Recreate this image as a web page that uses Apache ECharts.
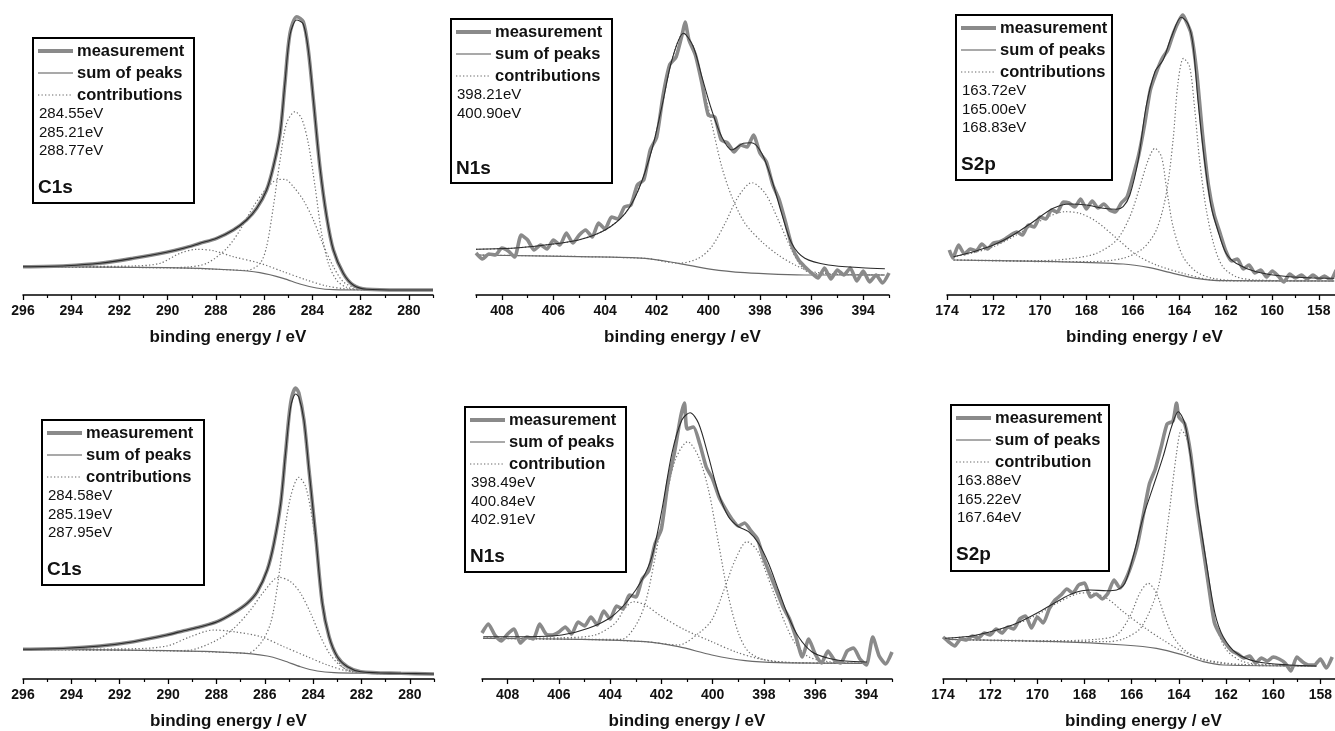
<!DOCTYPE html>
<html>
<head>
<meta charset="utf-8">
<title>XPS spectra C1s / N1s / S2p</title>
<script src="https://cdn.jsdelivr.net/npm/echarts@6.0.0/dist/echarts.min.js"></script>
<style>
  html, body { margin: 0; padding: 0; background: #fff; }
  #chart { width: 1335px; height: 731px; }
</style>
</head>
<body>
<div id="chart"></div>
<script>
// ---- tick labels (binding energy, eV) ----
const c1sTicks = [280, 282, 284, 286, 288, 290, 292, 294, 296]
const c1sMinorTicks = [279, 281, 283, 285, 287, 289, 291, 293, 295]
const n1sTicks = [394, 396, 398, 400, 402, 404, 406, 408]
const n1sMinorTicks = [393, 395, 397, 399, 401, 403, 405, 407, 409]
const s2pTicks = [158, 160, 162, 164, 166, 168, 170, 172, 174]
const s2pMinorTicks = [157, 159, 161, 163, 165, 167, 169, 171, 173]

const legendNames = ["measurement", "sum of peaks", "contributions"]
const legendNamesAlt = ["measurement", "sum of peaks", "contribution"]

// ---- C1s, top row ----  [binding energy, intensity (a.u.)]
const c1sTopPeaks = ["284.55eV", "285.21eV", "288.77eV"]
const c1sTopMeas = [[296,28.3],[294.19,29.3],[292.81,31.7],[291.43,36.7],[290.05,42.7],[289.35,46.7],[288.66,51.7],[287.97,56.7],[287.28,65],[286.73,75],[286.31,86.7],[285.9,105],[285.62,128.3],[285.34,161.7],[285.14,211.7],[284.93,261.7],[284.65,278.3],[284.38,273.3],[284.17,245],[283.96,195],[283.69,128.3],[283.41,78.3],[283.13,45],[282.72,21.7],[282.31,10],[281.75,5.7],[280.37,5],[279,5]]
const c1sTopFit = [[296,28.3],[294.19,29.3],[292.81,31.7],[291.43,36.7],[290.05,42.7],[289.35,46.7],[288.66,51.7],[287.97,56.7],[287.28,65],[286.73,75],[286.31,86.7],[285.9,105],[285.62,128.3],[285.34,161.7],[285.14,211.7],[284.93,260],[284.65,275],[284.38,271],[284.17,245],[283.96,195],[283.69,128.3],[283.41,78.3],[283.13,45],[282.72,21.7],[282.31,10],[281.75,5.7],[280.37,5],[279,5]]
const c1sTopBg = [[296,28.3],[290.05,27.3],[287.28,25],[286.18,22.3],[285.21,16.7],[284.52,11],[283.83,7],[283.13,5.3],[281.75,5],[279,5]]
const c1sTopPeakA = [[296,28.3],[290.05,27.3],[287.28,25],[286.73,24.5],[286.17,31.7],[285.9,48.3],[285.62,88.3],[285.34,135],[285.07,171.7],[284.72,183.3],[284.45,176.7],[284.17,151.7],[283.89,108.3],[283.62,61.7],[283.34,31.7],[283,15],[282.58,7.7],[281.75,5.3],[279,5]]
const c1sTopPeakB = [[296,28.3],[290.05,27.4],[289.21,27.9],[288.38,31.7],[287.55,46.7],[287,65],[286.45,88.3],[285.9,106.7],[285.48,115],[285.14,115.7],[284.79,108.3],[284.38,95],[283.96,75],[283.55,50],[283.13,28.3],[282.72,13.3],[282.17,6.7],[281.48,5],[279,5]]
const c1sTopPeakC = [[296,28.3],[291.43,29],[290.32,31.7],[289.49,41.7],[288.8,45.7],[288.11,44.3],[287.28,38.3],[286.17,31.7],[285.21,23.3],[284.24,15],[283.41,9],[282.58,6],[281.75,5],[279,5]]

// ---- N1s, top row ----
const n1sTopPeaks = ["398.21eV", "400.90eV"]
const n1sTopMeas = [[409,42],[408.75,36],[408.5,41],[408.25,40],[408,47],[407.75,44],[407.5,38],[407.25,60],[407,55],[406.75,45],[406.5,50],[406.25,46],[406,55],[405.75,50],[405.5,62],[405.25,52],[405,60],[404.75,65],[404.5,58],[404.25,72],[404,66],[403.75,78],[403.5,76],[403.25,88],[403,90],[402.75,110],[402.5,115],[402.25,145],[402,158],[401.75,200],[401.5,230],[401.25,238],[401,262],[400.9,273],[400.75,255],[400.5,240],[400.25,212],[400,180],[399.75,178],[399.5,155],[399.25,152],[399,143],[398.75,150],[398.5,148],[398.25,160],[398,142],[397.75,133],[397.5,110],[397.25,95],[397,72],[396.75,48],[396.5,35],[396.25,28],[396,22],[395.75,17],[395.5,27],[395.25,16],[395,25],[394.75,20],[394.5,27],[394.25,14],[394,24],[393.75,13],[393.5,20],[393.25,12],[393,22]]
const n1sTopFit = [[409,45.7],[407.62,46.7],[406.33,50],[405.03,55],[404,65],[403.22,81.7],[402.71,105],[402.19,145],[401.8,188.3],[401.41,235],[400.96,261.7],[400.58,248.3],[400.25,218.3],[399.87,185],[399.48,158.3],[399.09,145],[398.64,151.7],[398.32,152.3],[397.93,141.7],[397.54,115],[397.16,81.7],[396.77,51.7],[396.26,36.7],[395.35,30],[394.06,27.3],[393.16,26.3]]
const n1sTopBg = [[409,40],[405.03,38.3],[402.45,36.7],[401.16,31.7],[399.87,25.7],[398.58,22.3],[397.29,20.7],[396,20],[393.16,20]]
const n1sTopPeakA = [[409,45.7],[407.62,46.7],[406.33,50],[405.03,55],[404,65],[403.22,81.7],[402.71,105],[402.19,145],[401.8,188.3],[401.41,235],[400.96,261.7],[400.58,248.3],[400.25,215],[399.87,171.7],[399.48,128.3],[399.09,98.3],[398.58,71.7],[397.93,53.3],[397.29,40],[396.64,30],[396,23.3],[394.71,20.7],[393.16,20]]
const n1sTopPeakB = [[409,40],[402.45,36.7],[401.16,31.7],[400.38,36.7],[399.87,48.3],[399.35,71.7],[398.84,98.3],[398.32,112.3],[397.8,101.7],[397.29,75],[396.77,45],[396.39,28.3],[396,21.7],[393.16,20]]

// ---- S2p, top row ----
const s2pTopPeaks = ["163.72eV", "165.00eV", "168.83eV"]
const s2pTopMeas = [[173.9,45],[173.75,37],[173.5,50],[173.25,41],[173,46],[172.75,44],[172.5,51],[172.25,46],[172,52],[171.75,53],[171.5,56],[171.25,60],[171,63],[170.75,60],[170.5,70],[170.25,68],[170,78],[169.75,76],[169.5,85],[169.25,83],[169,93],[168.75,92],[168.5,88],[168.25,96],[168,86],[167.75,94],[167.5,87],[167.25,91],[167,85],[166.75,83],[166.5,92],[166.25,98],[166,118],[165.75,140],[165.5,170],[165.25,205],[165,222],[164.75,236],[164.5,245],[164.25,262],[164,275],[163.85,280],[163.75,276],[163.5,262],[163.25,222],[163,160],[162.75,110],[162.5,80],[162.25,62],[162,44],[161.75,34],[161.5,36],[161.25,26],[161,30],[160.75,22],[160.5,25],[160.25,18],[160,24],[159.75,19],[159.5,13],[159.25,21],[159,17],[158.75,20],[158.5,16],[158.25,20],[158,16],[157.75,19],[157.5,15],[157.25,25]]
const s2pTopFit = [[173.72,38.3],[172.86,43.3],[172,50],[171.15,60],[170.29,73.3],[169.43,86.7],[168.71,91],[168,90],[167.28,86.7],[166.71,85.7],[166.42,88.3],[166.13,100],[165.77,135],[165.43,188.3],[165.05,223.3],[164.7,235],[164.34,258.3],[163.92,277.7],[163.64,271.7],[163.42,251.7],[163.2,195],[162.92,135],[162.63,88.3],[162.35,65],[161.99,41.7],[161.56,31.7],[160.7,23.3],[159.27,18.3],[157.33,16.7]]
const s2pTopBg = [[173.72,35],[169.28,33.3],[166.42,31],[165.28,27.3],[164.27,21.7],[163.27,16.7],[162.13,14.3],[157.33,14]]
const s2pTopPeakA = [[173.72,35],[169.28,33.3],[167.88,33.3],[166.42,36.7],[165.56,46.7],[164.99,65],[164.56,101.7],[164.27,155],[164.06,211.7],[163.82,236.7],[163.56,228.3],[163.35,188.3],[163.13,135],[162.84,85],[162.49,48.3],[162.13,28.3],[161.56,18.3],[160.7,15],[157.33,14]]
const s2pTopPeakB = [[173.72,35],[170,34.3],[168.56,36.7],[167.56,41.7],[166.7,55],[166.13,78.3],[165.7,108.3],[165.34,135],[165.05,146.7],[164.77,138.3],[164.56,108.3],[164.27,68.3],[163.84,38.3],[163.27,23.3],[162.56,16.7],[161.41,14.3],[157.33,14]]
const s2pTopPeakC = [[173.72,38.3],[172.86,42.3],[172,48.3],[171.15,58.3],[170.29,70],[169.57,79],[168.92,83.3],[168.28,81.7],[167.56,73.3],[166.7,56.7],[165.84,40],[164.99,30],[163.84,21.7],[162.7,15.3],[161.41,14],[157.33,14]]

// ---- C1s, bottom row ----
const c1sBotPeaks = ["284.58eV", "285.19eV", "287.95eV"]
const c1sBotMeas = [[296,29.7],[294.19,30.7],[292.81,33],[291.43,37.3],[290.05,44],[289.35,48.3],[288.66,52.3],[287.97,57.3],[287.28,66.3],[286.73,75.7],[286.31,87.3],[285.9,109],[285.62,135.7],[285.34,175.7],[285.14,225.7],[284.93,275.7],[284.72,291],[284.59,286],[284.38,259],[284.17,209],[283.89,142.3],[283.62,75.7],[283.34,42.3],[283,22.3],[282.58,12.3],[282.03,7.3],[280.37,5.7],[279,5]]
const c1sBotFit = [[296,29.7],[294.19,30.7],[292.81,33],[291.43,37.3],[290.05,44],[289.35,48.3],[288.66,52.3],[287.97,57.3],[287.28,66.3],[286.73,75.7],[286.31,87.3],[285.9,109],[285.62,135.7],[285.34,175.7],[285.14,225.7],[284.93,272],[284.72,285],[284.59,282],[284.38,259],[284.17,209],[283.89,142.3],[283.62,75.7],[283.34,42.3],[283,22.3],[282.58,12.3],[282.03,7.3],[280.37,5.7],[279,5]]
const c1sBotBg = [[296,29.7],[290.05,28.3],[287.28,26.3],[285.9,23],[285.21,18.3],[284.52,12.3],[283.83,8],[283.13,6.3],[281.75,5.7],[279,5]]
const c1sBotPeakA = [[296,29.7],[290.05,28.3],[287.28,26.3],[286.73,25.5],[286.17,35.7],[285.76,55.7],[285.48,92.3],[285.21,142.3],[284.93,182.3],[284.59,201.7],[284.31,192.3],[284.03,159],[283.76,109],[283.48,59],[283.13,25.7],[282.72,10.7],[282.03,6.7],[279,5]]
const c1sBotPeakB = [[296,29.7],[290.05,28.4],[289.21,28.6],[288.11,37.3],[287.28,50.7],[286.59,69],[286.04,87.3],[285.42,101.7],[284.93,97.3],[284.52,85.7],[284.1,65.7],[283.69,42.3],[283.28,24],[282.72,10.7],[282.03,6.7],[279,5]]
const c1sBotPeakC = [[296,29.7],[291.43,30.3],[290.05,33],[289.08,42.3],[288.11,49],[287.28,47.3],[286.17,42.3],[285.21,32.3],[284.24,22.3],[283.41,14],[282.58,8],[281.75,5.7],[279,5]]

// ---- N1s, bottom row ----
const n1sBotPeaks = ["398.49eV", "400.84eV", "402.91eV"]
const n1sBotMeas = [[409,46],[408.75,55],[408.5,44],[408.25,38],[408,45],[407.75,50],[407.5,36],[407.25,42],[407,40],[406.75,55],[406.5,45],[406.25,44],[406,47],[405.75,52],[405.5,45],[405.25,57],[405,53],[404.75,62],[404.5,54],[404.25,68],[404,60],[403.75,73],[403.5,70],[403.25,84],[403,82],[402.75,100],[402.5,108],[402.25,135],[402,150],[401.75,195],[401.5,225],[401.25,262],[401.1,276],[401,250],[400.75,252],[400.5,235],[400.25,212],[400,200],[399.75,182],[399.5,170],[399.25,160],[399,153],[398.75,156],[398.5,148],[398.25,140],[398,120],[397.75,104],[397.5,88],[397.25,72],[397,60],[396.75,42],[396.5,22],[396.25,40],[396,25],[395.75,16],[395.5,28],[395.25,19],[395,16],[394.75,28],[394.5,31],[394.25,20],[394,14],[393.75,42],[393.5,23],[393.25,15],[393,27]]
const n1sBotFit = [[408.95,42.3],[407.19,42.3],[405.89,44],[404.85,50.7],[403.94,62.3],[403.29,79],[402.76,99],[402.37,122.3],[401.98,169],[401.59,225.7],[401.2,259],[400.88,266.3],[400.55,255.7],[400.16,222.3],[399.77,185.7],[399.38,162.3],[398.99,152.3],[398.6,147.3],[398.21,135.7],[397.82,115.7],[397.43,89],[397.04,62.3],[396.65,42.3],[396.13,27.3],[395.48,20.7],[394.83,18],[393.98,17]]
const n1sBotBg = [[408.95,40.7],[405.24,39.7],[402.63,37.3],[401.33,32.3],[400.03,24],[398.73,18.3],[397.43,16.3],[393.98,15.7]]
const n1sBotPeakA = [[408.95,40.7],[405.24,39.7],[402.63,37.3],[401.33,34],[400.55,45.7],[400.03,59],[399.51,92.3],[399.12,119],[398.66,137.3],[398.27,129],[397.95,109],[397.56,82.3],[397.17,55.7],[396.78,35.7],[396.26,22.3],[395.48,17.3],[393.98,15.7]]
const n1sBotPeakB = [[408.95,40.7],[405.24,39.7],[403.55,39.7],[403.03,52.3],[402.63,75.7],[402.24,122.3],[401.85,175.7],[401.46,219],[400.97,237.3],[400.55,222.3],[400.16,189],[399.77,135.7],[399.38,82.3],[398.99,45.7],[398.6,27.3],[397.95,19],[396.78,16.3],[393.98,15.7]]
const n1sBotPeakC = [[408.95,40.7],[405.89,41.3],[404.59,44],[403.81,55.7],[403.42,70.7],[403.09,77.3],[402.63,74],[401.98,62.3],[401.07,49],[400.03,37.3],[399.12,27.3],[398.08,19.7],[396.78,16.3],[393.98,15.7]]

// ---- S2p, bottom row ----
const s2pBotPeaks = ["163.88eV", "165.22eV", "167.64eV"]
const s2pBotMeas = [[174,42],[173.75,37],[173.5,33],[173.25,40],[173,39],[172.75,43],[172.5,41],[172.25,46],[172,44],[171.75,50],[171.5,46],[171.25,52],[171,50],[170.75,60],[170.5,63],[170.25,51],[170,62],[169.75,56],[169.5,70],[169.25,79],[169,84],[168.75,90],[168.5,86],[168.25,94],[168,96],[167.75,82],[167.5,85],[167.25,80],[167,86],[166.75,99],[166.5,91],[166.25,100],[166,115],[165.75,135],[165.5,165],[165.25,195],[165,210],[164.75,232],[164.5,255],[164.25,258],[164.1,276],[164,262],[163.75,255],[163.5,225],[163.25,175],[163,135],[162.75,95],[162.5,57],[162.25,44],[162,35],[161.75,28],[161.5,25],[161.25,21],[161,23],[160.75,16],[160.5,21],[160.25,18],[160,22],[159.75,20],[159.5,16],[159.25,8],[159,22],[158.75,17],[158.5,14],[158.25,14],[158,20],[157.75,11],[157.5,22]]
const s2pBotFit = [[173.92,40.7],[172.72,43.3],[171.72,49],[170.88,55.7],[170.03,65.7],[169.18,77.3],[168.48,85.7],[167.77,89],[167.06,88.3],[166.64,89],[166.29,95.7],[165.94,122.3],[165.51,162.3],[165.09,192.3],[164.67,222.3],[164.31,252.3],[164.03,267.3],[163.75,255.7],[163.46,215.7],[163.18,169],[162.83,115.7],[162.47,65.7],[162.12,42.3],[161.55,25.7],[160.7,17.3],[159.3,14],[158.17,13]]
const s2pBotBg = [[173.92,39.7],[169.18,37.3],[166.33,34],[164.95,30.7],[163.82,24],[162.97,17.3],[162.12,14],[158.17,13]]
const s2pBotPeakA = [[173.92,39.7],[169.18,37.3],[167.06,37.3],[166.29,40.7],[165.58,52.3],[164.87,92.3],[164.45,159],[164.1,225.7],[163.89,249],[163.6,235.7],[163.32,192.3],[163.04,142.3],[162.76,92.3],[162.4,52.3],[161.98,29],[161.27,17.3],[160,14],[158.17,13]]
const s2pBotPeakB = [[173.92,39.7],[169.18,38.3],[167.49,39.7],[166.64,44],[166.08,62.3],[165.66,85.7],[165.3,95.7],[164.95,85.7],[164.6,62.3],[164.24,42.3],[163.68,27.3],[162.83,18.3],[161.41,14],[158.17,13]]
const s2pBotPeakC = [[173.92,40.7],[172.72,43],[171.72,48.3],[170.88,55],[170.03,64],[169.18,75.7],[168.34,85],[167.77,86.3],[167.06,80.7],[166.36,67.3],[165.51,52.3],[164.67,39],[163.82,27.3],[162.83,19],[161.41,14.7],[158.17,13]]

const FONT = "'Liberation Sans', Arial, sans-serif"

// one entry per panel: grid placement, axis range and the data arrays
const panels = [
  { grid: { left: 23, top: 0, width: 410, height: 295 }, min: 279, max: 296, ticks: c1sTicks, minor: c1sMinorTicks,
    meas: c1sTopMeas, fit: c1sTopFit, bg: c1sTopBg, parts: [c1sTopPeakA, c1sTopPeakB, c1sTopPeakC], smoothMeas: true,
    box: { x: 33, y: 38, w: 161, h: 165 }, names: legendNames, peaks: c1sTopPeaks, title: "C1s" },
  { grid: { left: 476, top: 0, width: 413, height: 295 }, min: 393, max: 409, ticks: n1sTicks, minor: n1sMinorTicks,
    meas: n1sTopMeas, fit: n1sTopFit, bg: n1sTopBg, parts: [n1sTopPeakA, n1sTopPeakB], smoothMeas: false,
    box: { x: 451, y: 19, w: 161, h: 164 }, names: legendNames, peaks: n1sTopPeaks, title: "N1s" },
  { grid: { left: 947, top: 0, width: 395, height: 295 }, min: 157, max: 174, ticks: s2pTicks, minor: s2pMinorTicks,
    meas: s2pTopMeas, fit: s2pTopFit, bg: s2pTopBg, parts: [s2pTopPeakA, s2pTopPeakB, s2pTopPeakC], smoothMeas: false,
    box: { x: 956, y: 15, w: 156, h: 165 }, names: legendNames, peaks: s2pTopPeaks, title: "S2p" },
  { grid: { left: 23, top: 384, width: 411, height: 295 }, min: 279, max: 296, ticks: c1sTicks, minor: c1sMinorTicks,
    meas: c1sBotMeas, fit: c1sBotFit, bg: c1sBotBg, parts: [c1sBotPeakA, c1sBotPeakB, c1sBotPeakC], smoothMeas: true,
    box: { x: 42, y: 420, w: 162, h: 165 }, names: legendNames, peaks: c1sBotPeaks, title: "C1s" },
  { grid: { left: 482, top: 384, width: 410, height: 295 }, min: 393, max: 409, ticks: n1sTicks, minor: n1sMinorTicks,
    meas: n1sBotMeas, fit: n1sBotFit, bg: n1sBotBg, parts: [n1sBotPeakA, n1sBotPeakB, n1sBotPeakC], smoothMeas: false,
    box: { x: 465, y: 407, w: 161, h: 165 }, names: legendNamesAlt, peaks: n1sBotPeaks, title: "N1s" },
  { grid: { left: 943, top: 384, width: 401, height: 295 }, min: 157, max: 174, ticks: s2pTicks, minor: s2pMinorTicks,
    meas: s2pBotMeas, fit: s2pBotFit, bg: s2pBotBg, parts: [s2pBotPeakA, s2pBotPeakB, s2pBotPeakC], smoothMeas: false,
    box: { x: 951, y: 405, w: 158, h: 166 }, names: legendNamesAlt, peaks: s2pBotPeaks, title: "S2p" }
]

const measColor = "#8a8a8a"
const fitColor = "#2a2a2a"
const bgColor = "#6a6a6a"
const partColor = "#707070"

const grids = [], xAxes = [], yAxes = [], series = [], graphics = []

panels.forEach((p, i) => {
  grids.push(Object.assign({ outerBoundsMode: "none", containLabel: false }, p.grid))
  // major ticks + labels
  xAxes.push({
    type: "value", gridIndex: i, min: p.min, max: p.max, inverse: true, position: "bottom",
    axisLine: { show: true, onZero: false, lineStyle: { color: "#000", width: 1.5 } },
    axisTick: { show: true, customValues: p.ticks, length: 5, lineStyle: { color: "#000", width: 1.3 } },
    axisLabel: { customValues: p.ticks, margin: 9, fontSize: 14, fontWeight: "bold", color: "#111", fontFamily: FONT },
    splitLine: { show: false },
    name: "binding energy / eV", nameLocation: "middle", nameGap: 34,
    nameTextStyle: { fontSize: 17, fontWeight: "bold", color: "#111", fontFamily: FONT }
  })
  yAxes.push({ type: "value", gridIndex: i, min: 0, max: 295, show: false })
})
// minor ticks on a second axis per grid
panels.forEach((p, i) => {
  xAxes.push({
    type: "value", gridIndex: i, min: p.min, max: p.max, inverse: true, position: "bottom",
    axisLine: { show: false, onZero: false },
    axisTick: { show: true, customValues: p.minor, length: 3, lineStyle: { color: "#000", width: 1.2 } },
    axisLabel: { show: false }, splitLine: { show: false }
  })
})

panels.forEach((p, i) => {
  p.parts.forEach((d) => {
    series.push({ type: "line", xAxisIndex: i, yAxisIndex: i, data: d, showSymbol: false, smooth: 0.3, z: 2,
      lineStyle: { color: partColor, width: 1.2, type: [1.3, 2.2] }, silent: true })
  })
  series.push({ type: "line", xAxisIndex: i, yAxisIndex: i, data: p.bg, showSymbol: false, smooth: 0.3, z: 3,
    lineStyle: { color: bgColor, width: 1.2 }, silent: true })
  series.push({ type: "line", xAxisIndex: i, yAxisIndex: i, data: p.meas, showSymbol: false, smooth: p.smoothMeas ? 0.3 : 0.2, z: 4,
    lineStyle: { color: measColor, width: 3.6 }, silent: true })
  series.push({ type: "line", xAxisIndex: i, yAxisIndex: i, data: p.fit, showSymbol: false, smooth: 0.3, z: 5,
    lineStyle: { color: fitColor, width: 1.1 }, silent: true })

  // legend box drawn as graphics
  const b = p.box
  graphics.push({ type: "rect", z: 100, shape: { x: b.x, y: b.y, width: b.w, height: b.h },
    style: { fill: "#fff", stroke: "#000", lineWidth: 2 } })
  const rows = [13, 35, 57]
  const samples = [
    { stroke: measColor, lineWidth: 4 },
    { stroke: "#555", lineWidth: 1.2 },
    { stroke: "#666", lineWidth: 1.2, lineDash: [1.3, 2.2] }
  ]
  rows.forEach((dy, k) => {
    graphics.push({ type: "line", z: 101, shape: { x1: b.x + 5, y1: b.y + dy, x2: b.x + 40, y2: b.y + dy }, style: samples[k] })
    graphics.push({ type: "text", z: 101, style: { text: p.names[k], x: b.x + 44, y: b.y + dy,
      font: "bold 16.5px " + FONT, fill: "#111", verticalAlign: "middle", textVerticalAlign: "middle" } })
  })
  p.peaks.forEach((t, k) => {
    graphics.push({ type: "text", z: 101, style: { text: t, x: b.x + 6, y: b.y + 76 + k * 18.5,
      font: "15px " + FONT, fill: "#111", verticalAlign: "middle", textVerticalAlign: "middle" } })
  })
  graphics.push({ type: "text", z: 101, style: { text: p.title, x: b.x + 5, y: b.y + 150,
    font: "bold 19px " + FONT, fill: "#111", verticalAlign: "middle", textVerticalAlign: "middle" } })
})

const chart = echarts.init(document.getElementById("chart"))
chart.setOption({
  animation: false,
  backgroundColor: "#fff",
  textStyle: { fontFamily: FONT },
  grid: grids,
  xAxis: xAxes,
  yAxis: yAxes,
  series: series,
  graphic: graphics
})
</script>
</body>
</html>
